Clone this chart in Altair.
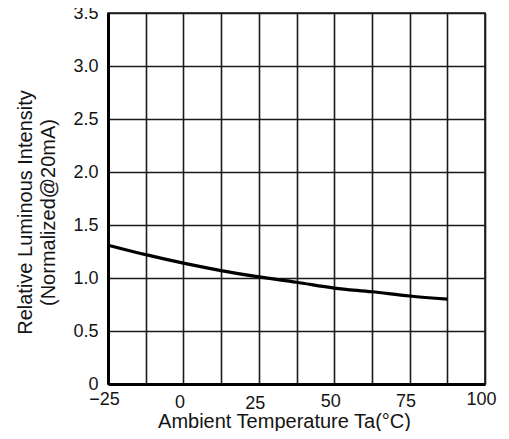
import altair as alt
import pandas as pd

temps = [-25, -12.5, 0, 12.5, 25, 37.5, 50, 62.5, 75, 87.5]
intensity = [1.31, 1.22, 1.14, 1.07, 1.01, 0.96, 0.905, 0.87, 0.83, 0.80]

x_grid = [-25, -12.5, 0, 12.5, 25, 37.5, 50, 62.5, 75, 87.5, 100]
y_ticks = [0, 0.5, 1.0, 1.5, 2.0, 2.5, 3.0, 3.5]

df = pd.DataFrame({"t": temps, "v": intensity})

FONT = "Liberation Sans"
TXT = "#141414"

line = alt.Chart(df).mark_line(color="black", strokeWidth=3.2, interpolate="monotone").encode(
    x=alt.X(
        "t:Q",
        scale=alt.Scale(domain=[-25, 100], nice=False, zero=False),
        axis=alt.Axis(
            values=x_grid,
            title="Ambient Temperature Ta(°C)",
            titleFont=FONT,
            titleFontSize=20,
            titleFontWeight="normal",
            titleColor=TXT,
            titleX=176,
            titleY=43,
            titleAlign="center",
            titleBaseline="alphabetic",
            labelExpr="datum.value % 25 == 0 ? datum.label : ''",
            labelFont=FONT,
            labelFontSize=18,
            labelColor=TXT,
            labelOffset=-4,
            labelPadding={
                "condition": [
                    {"test": "datum.value == 25", "value": 10},
                    {"test": "datum.value == 0", "value": 9},
                    {"test": "datum.value == 50 || datum.value == 75", "value": 8},
                ],
                "value": 6,
            },
            labelFlush=False,
            ticks=False,
            domainColor="black",
            domainWidth=3,
            gridColor="#1a1a1a",
            gridWidth=1.6,
            gridOpacity=1,
        ),
    ),
    y=alt.Y(
        "v:Q",
        scale=alt.Scale(domain=[0, 3.5], nice=False),
        axis=alt.Axis(
            values=y_ticks,
            title=["Relative Luminous Intensity", "(Normalized@20mA)"],
            titleFont=FONT,
            titleFontSize=20,
            titleFontWeight="normal",
            titleColor=TXT,
            titleAngle=-90,
            titleX=-93,
            titleY=199,
            titleAlign="center",
            titleBaseline="top",
            titleLineHeight=23,
            labelExpr="datum.value == 0 ? '0' : format(datum.value, '.1f')",
            labelFont=FONT,
            labelFontSize=18,
            labelColor=TXT,
            labelPadding=10,
            labelFlush=False,
            ticks=False,
            domainColor="black",
            domainWidth=3,
            gridColor="#1a1a1a",
            gridWidth=1.6,
            gridOpacity=1,
        ),
    ),
)

chart = line.properties(
    width=377,
    height=371,
    title=alt.TitleParams(
        "vs. Ambient Temperature",
        font=FONT,
        fontSize=19,
        fontWeight="normal",
        color="#333",
        offset=1,
        dx=9,
    ),
    autosize=alt.AutoSizeParams(type="none"),
    padding={"left": 100, "top": 5, "right": 16, "bottom": 47},
).configure_view(stroke="#1a1a1a", strokeWidth=1.6)

chart.save("out.html", embed_options={"renderer": "svg", "actions": False})
